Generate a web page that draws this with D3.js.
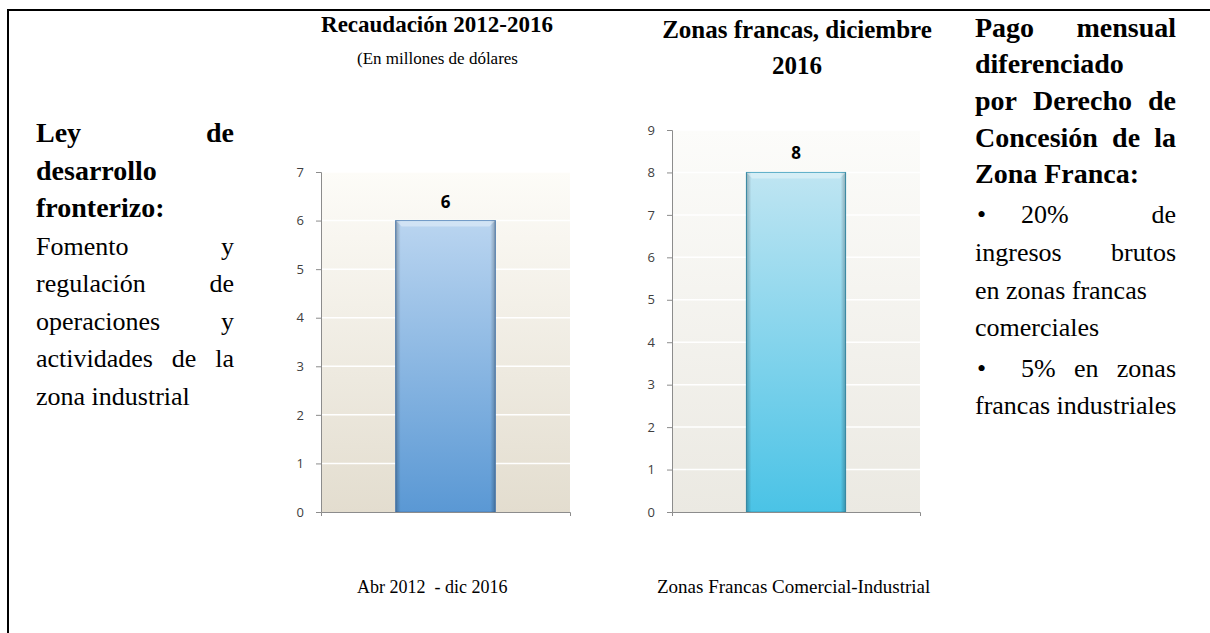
<!DOCTYPE html>
<html>
<head>
<meta charset="utf-8">
<script src="https://cdn.jsdelivr.net/npm/d3@7"></script>
<style>
  body { margin: 0; background: #fff; }
  svg { display: block; }
  .serif { font-family: "Liberation Serif", "Times New Roman", "DejaVu Serif", serif; fill: #000; }
  .tick text { font-family: "Open Sans", sans-serif; font-size: 13px; fill: #404040; }
</style>
</head>
<body>
<svg id="viz" width="1210" height="633"></svg>
<script>
// chart values
var recCategories = ["Abr 2012  - dic 2016"]
  , recValues = [6]
  , recMax = 7
  , zfCategories = ["Zonas Francas Comercial-Industrial"]
  , zfValues = [8]
  , zfMax = 9;

// side texts, one entry per printed line
// b = bold, j = justified, bullet = line starts with a bullet
var leftLines = [
  {t: "Ley de", b: true, j: true},
  {t: "desarrollo", b: true, j: false},
  {t: "fronterizo:", b: true, j: false},
  {t: "Fomento y", b: false, j: true},
  {t: "regulación de", b: false, j: true},
  {t: "operaciones y", b: false, j: true},
  {t: "actividades de la", b: false, j: true},
  {t: "zona industrial", b: false, j: false}
];
var rightLines = [
  {t: "Pago mensual", b: true, j: true},
  {t: "diferenciado", b: true, j: false},
  {t: "por Derecho de", b: true, j: true},
  {t: "Concesión de la", b: true, j: true},
  {t: "Zona Franca:", b: true, j: false},
  {t: "20% de", b: false, j: true, bullet: true},
  {t: "ingresos brutos", b: false, j: true},
  {t: "en zonas francas", b: false, j: false},
  {t: "comerciales", b: false, j: false},
  {t: "5% en zonas", b: false, j: true, bullet: true},
  {t: "francas industriales", b: false, j: false}
];

var svg = d3.select("#viz");

// frame of the page
svg.append("path")
  .attr("d", "M8,633V10H1210")
  .attr("fill", "none")
  .attr("stroke", "#000")
  .attr("stroke-width", 2);

var defs = svg.append("defs");
function vGrad(id, top, bottom){
  var g = defs.append("linearGradient").attr("id", id)
    .attr("x1", 0).attr("y1", 0).attr("x2", 0).attr("y2", 1);
  g.append("stop").attr("offset", "0%").attr("stop-color", top);
  g.append("stop").attr("offset", "100%").attr("stop-color", bottom);
}
vGrad("bg1", "#fdfcf8", "#e3ddcf");
vGrad("bg2", "#fcfcfa", "#ebe9e2");
vGrad("bar1", "#bad5f0", "#5a98d4");
vGrad("bar2", "#bfe5f2", "#4ac3e6");
var edge = defs.append("linearGradient").attr("id", "edge")
  .attr("x1", 0).attr("y1", 0).attr("x2", 1).attr("y2", 0);
edge.append("stop").attr("offset", "0%").attr("stop-color", "#000").attr("stop-opacity", 0.25);
edge.append("stop").attr("offset", "5%").attr("stop-color", "#000").attr("stop-opacity", 0);
edge.append("stop").attr("offset", "95%").attr("stop-color", "#000").attr("stop-opacity", 0);
edge.append("stop").attr("offset", "100%").attr("stop-color", "#000").attr("stop-opacity", 0.25);

function drawBars(opt){
  var x = d3.scaleBand().domain(opt.cats).range([opt.x0, opt.x1])
        .paddingInner(0.6).paddingOuter(0.3)
    , y = d3.scaleLinear().domain([0, opt.max]).range([opt.y0, opt.y1]);

  var g = svg.append("g");

  g.append("rect")
    .attr("x", opt.x0).attr("y", y(opt.max))
    .attr("width", opt.x1 - opt.x0).attr("height", y(0) - y(opt.max))
    .attr("fill", "url(#" + opt.bg + ")");

  g.selectAll(".grid").data(y.ticks(opt.max).filter(function(d){ return d > 0; }))
    .enter().append("line")
    .attr("x1", opt.x0).attr("x2", opt.x1)
    .attr("y1", function(d){ return y(d); }).attr("y2", function(d){ return y(d); })
    .attr("stroke", "#fff").attr("stroke-width", 1.5);

  var bars = g.selectAll(".bar").data(opt.vals).enter();
  bars.append("rect")
    .attr("x", function(d, i){ return x(opt.cats[i]); })
    .attr("y", function(d){ return y(d); })
    .attr("width", x.bandwidth())
    .attr("height", function(d){ return y(0) - y(d); })
    .attr("fill", "url(#" + opt.fill + ")")
    .attr("stroke", opt.stroke).attr("stroke-width", 1);
  bars.append("rect")
    .attr("x", function(d, i){ return x(opt.cats[i]); })
    .attr("y", function(d){ return y(d); })
    .attr("width", x.bandwidth())
    .attr("height", function(d){ return y(0) - y(d); })
    .attr("fill", "url(#edge)");
  // light bevel along the top
  bars.append("path")
    .attr("d", function(d, i){
      var l = x(opt.cats[i]), r = l + x.bandwidth(), t = y(d);
      return "M" + l + "," + t + "H" + r + "L" + (r - 6) + "," + (t + 6) + "H" + (l + 6) + "Z";
    })
    .attr("fill", "#fff").attr("opacity", 0.35);
  bars.append("text")
    .attr("x", function(d, i){ return x(opt.cats[i]) + x.bandwidth() / 2; })
    .attr("y", function(d){ return y(d) - 13; })
    .attr("text-anchor", "middle")
    .style("font-family", "'Open Sans', sans-serif")
    .style("font-weight", "bold").style("font-size", "17px")
    .text(function(d){ return d; });

  var ay = g.append("g")
    .attr("transform", "translate(" + opt.x0 + ",0)")
    .call(d3.axisLeft(y).ticks(opt.max).tickSize(5).tickPadding(12));
  ay.selectAll("path, line").attr("stroke", "#8c8c8c");

  var ax = g.append("g")
    .attr("transform", "translate(0," + opt.y0 + ")")
    .call(d3.axisBottom(x).tickValues([]).tickSizeOuter(4));
  ax.select("path").attr("stroke", "#8c8c8c");

  // category label below the chart
  svg.append("text").attr("class", "serif")
    .attr("x", opt.labelX).attr("y", 593)
    .style("font-size", opt.labelSize + "px")
    .style("white-space", "pre")
    .text(opt.cats[0]);
}

drawBars({cats: recCategories, vals: recValues, max: recMax, labelX: 357, labelSize: 18,
  x0: 321, x1: 570, y0: 512, y1: 172, bg: "bg1", fill: "bar1", stroke: "#4f81b9"});
drawBars({cats: zfCategories, vals: zfValues, max: zfMax, labelX: 657, labelSize: 19,
  x0: 672, x1: 920, y0: 512, y1: 130, bg: "bg2", fill: "bar2", stroke: "#3a9cbc"});

// chart titles
function title(txt, x, y, size, bold, anchor){
  svg.append("text").attr("class", "serif")
    .attr("x", x).attr("y", y).attr("text-anchor", anchor || "middle")
    .style("font-size", size + "px").style("font-weight", bold ? "bold" : "normal")
    .text(txt);
}
title("Recaudación 2012-2016", 437, 32, 23, true);
title("(En millones de dólares", 357, 64, 17, false, "start");
title("Zonas francas, diciembre", 797, 38, 25, true);
title("2016", 797, 74, 25, true);

// justified paragraph lines
function paragraph(lines, x0, x1, ys, regSize, boldSize){
  lines.forEach(function(ln, i){
    var y = ys[i]
      , size = ln.b ? boldSize : regSize
      , words = ln.t.split(/\s+/)
      , g = svg.append("g")
      , start = x0;
    if (ln.bullet){
      g.append("text").attr("class", "serif")
        .attr("x", x0 + 2).attr("y", y).style("font-size", size + "px").text("•");
      start = x0 + 46;
    }
    var nodes = words.map(function(w){
      return g.append("text").attr("class", "serif")
        .attr("y", y).style("font-size", size + "px")
        .style("font-weight", ln.b ? "bold" : "normal").text(w);
    });
    var widths = nodes.map(function(n){ return n.node().getComputedTextLength(); })
      , total = d3.sum(widths)
      , space = size * 0.25;
    if (ln.j && words.length > 1) space = (x1 - start - total) / (words.length - 1);
    var cx = start;
    nodes.forEach(function(n, k){
      n.attr("x", cx);
      cx += widths[k] + space;
    });
  });
}
var leftY = leftLines.map(function(d, i){ return 142 + i * 37.5; });
var rightY = [37, 73, 110, 147, 183, 223, 261, 299, 336, 377, 414];
paragraph(leftLines, 36, 234, leftY, 26, 28);
paragraph(rightLines, 975, 1176, rightY, 26, 28);
</script>
</body>
</html>
